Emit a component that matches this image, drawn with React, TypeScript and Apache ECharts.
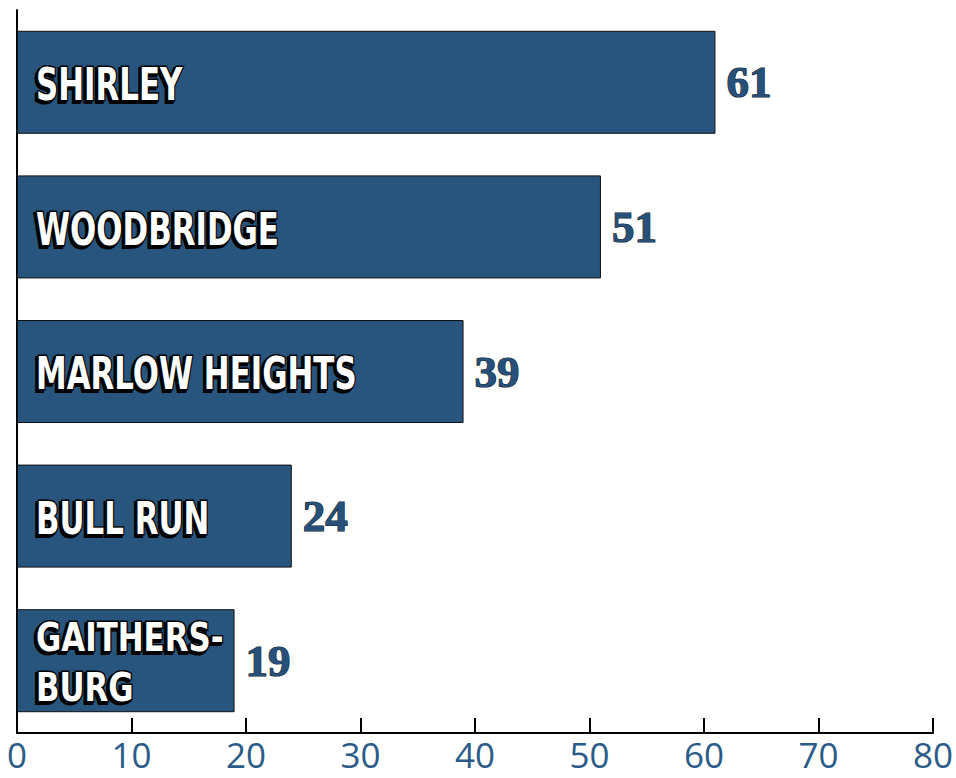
import React, { useEffect, useRef } from "react";
import * as echarts from "echarts";

const categories = ["SHIRLEY", "WOODBRIDGE", "MARLOW HEIGHTS", "BULL RUN", "GAITHERSBURG"];
const categoryLines = [["SHIRLEY"], ["WOODBRIDGE"], ["MARLOW HEIGHTS"], ["BULL RUN"], ["GAITHERS-", "BURG"]];
const values = [61, 51, 39, 24, 19];
const axisMin = 0;
const axisMax = 80;
const axisInterval = 10;

export default function App() {
  const ref = useRef<HTMLDivElement>(null);
  useEffect(() => {
    if (!ref.current) return;
    const chart = echarts.init(ref.current, undefined, { renderer: "svg" });
    const catFontFamily = "'DejaVu Sans Condensed', 'DejaVu Sans', sans-serif";
    chart.setOption({
      animation: false,
      backgroundColor: "#ffffff",
      grid: { left: 17, right: 23, top: 10, bottom: 45, containLabel: false },
      xAxis: {
        type: "value",
        min: axisMin,
        max: axisMax,
        interval: axisInterval,
        axisLine: { show: true, lineStyle: { color: "#000", width: 2 } },
        axisTick: { show: true, inside: true, length: 15, lineStyle: { color: "#000", width: 2 } },
        splitLine: { show: false },
        axisLabel: {
          color: "#2b5b88",
          fontSize: 35,
          lineHeight: 32,
          fontFamily: "'Open Sans', 'Noto Sans', sans-serif",
          margin: 5,
        },
      },
      yAxis: {
        type: "category",
        inverse: true,
        data: categories,
        axisLine: { show: true, lineStyle: { color: "#000", width: 2 } },
        axisTick: { show: false },
        axisLabel: { show: false },
      },
      series: [
        {
          type: "bar",
          data: values,
          barWidth: 103,
          itemStyle: { color: "#28557d", borderColor: "#111", borderWidth: 1 },
          label: {
            show: true,
            position: "right",
            distance: 11,
            color: "#27507a",
            fontSize: 45,
            fontWeight: "bold",
            fontFamily: "'Liberation Serif', 'DejaVu Serif', serif",
            textBorderColor: "#0b1a2a",
            textBorderWidth: 1.2,
            textShadowColor: "rgba(0,0,0,0.5)",
            textShadowOffsetX: 1,
            textShadowOffsetY: 1,
          },
        },
      ],
    });

    const graphics: any[] = [];
    categories.forEach((c, idx) => {
      const p = chart.convertToPixel({ xAxisIndex: 0, yAxisIndex: 0 }, [0, c]) as number[];
      if (!p) return;
      const lines = categoryLines[idx];
      const multi = lines.length > 1;
      const fontSize = multi ? 39 : 44;
      const scaleX = multi ? 0.88 : 0.78;
      const lh = 50;
      const x = p[0] + 19;
      lines.forEach((t: string, li: number) => {
        const y = p[1] + 2 + (li - (lines.length - 1) / 2) * lh;
        const font = `bold ${fontSize}px ${catFontFamily}`;
        graphics.push({
          type: "text",
          x: x - 2,
          y: y + 2,
          scaleX,
          z: 100,
          silent: true,
          style: {
            text: t,
            font,
            fill: "#000",
            stroke: "#000",
            lineWidth: 4,
            textVerticalAlign: "middle",
            verticalAlign: "middle",
            textAlign: "left",
            align: "left",
          },
        });
        graphics.push({
          type: "text",
          x,
          y,
          scaleX,
          z: 101,
          silent: true,
          style: {
            text: t,
            font,
            fill: "#ffffff",
            stroke: "#000",
            lineWidth: 3,
            textVerticalAlign: "middle",
            verticalAlign: "middle",
            textAlign: "left",
            align: "left",
          },
        });
      });
    });
    chart.setOption({ graphic: graphics });
    return () => chart.dispose();
  }, []);
  return (
    <div
      ref={ref}
      style={{ position: "fixed", left: 0, top: 0, width: 956, height: 778 }}
    />
  );
}
